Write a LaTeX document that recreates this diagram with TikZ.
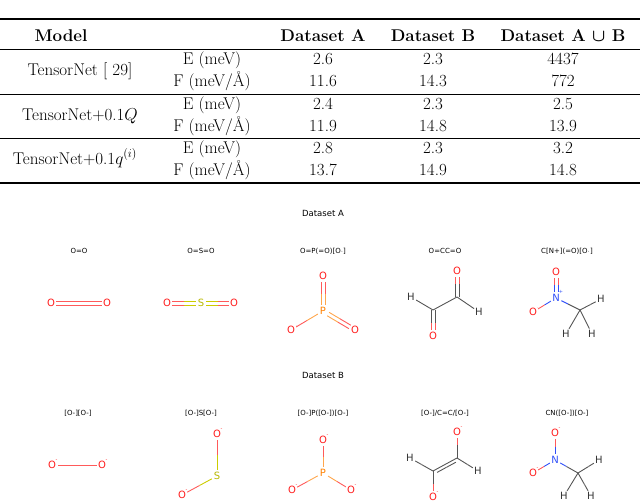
\documentclass[tikz,border=0pt]{standalone}
\usepackage{amsmath}
\usepackage{fontspec}
\newfontfamily\molfont{DejaVu Sans}
\usetikzlibrary{calc}
\definecolor{oc}{HTML}{FF1A1A}
\definecolor{ob}{HTML}{FF5A5A}
\definecolor{sc}{HTML}{CCCC00}
\definecolor{pc}{HTML}{FF8000}
\definecolor{nc}{HTML}{3050F8}
\definecolor{hc}{HTML}{333333}
\definecolor{cb}{HTML}{555555}
\newcommand\bd[7][0,0]{%
 \draw[#4] ($($(#2)!#6!(#3)$)+(#1)$) -- ($($(#2)!.5!(#3)$)+(#1)$);
 \draw[#5] ($($(#2)!.5!(#3)$)+(#1)$) -- ($($(#3)!#7!(#2)$)+(#1)$);}
\begin{document}
\begin{tikzpicture}[x=1pt,y=-1pt,
  cell/.style={font=\fontsize{17}{19}\selectfont,inner sep=0pt,anchor=base},
  hcell/.style={cell,font=\fontsize{17}{19}\selectfont\bfseries},
  title/.style={font=\molfont\fontsize{8.5}{10}\selectfont,inner sep=0pt},
  smi/.style={font=\molfont\fontsize{7}{8}\selectfont,inner sep=0pt},
  atom/.style={font=\molfont\fontsize{10}{11}\selectfont,inner sep=0pt},
  aO/.style={atom,text=oc}, aS/.style={atom,text=sc!90!black}, aP/.style={atom,text=pc},
  aN/.style={atom,text=nc}, aH/.style={atom,text=hc},
  bnd/.style={line width=0.9pt},
  chg/.style={font=\molfont\fontsize{5}{5}\selectfont,inner sep=0pt}]
\useasboundingbox (0,0) rectangle (640,503);
% ---------- table ----------
\draw[line width=1.2pt] (0,19) -- (640,19);
\draw[line width=0.6pt] (0,49) -- (640,49);
\draw[line width=0.6pt] (0,94) -- (640,94);
\draw[line width=0.6pt] (0,138) -- (640,138);
\draw[line width=1.2pt] (0,183) -- (640,183);
\node[hcell] (hm) at (61,42) {Model};
\node[hcell] (ha) at (323,42) {Dataset A};
\node[hcell] (hb) at (433,42) {Dataset B};
\node[hcell] (hab) at (563,42) {Dataset A $\boldsymbol{\cup}$ B};
\node[cell] (m1) at (80,76) {TensorNet [ 29]};
\node[cell] (m2) at (80,120) {TensorNet+0.1$Q$};
\node[cell] (m3) at (75,164) {TensorNet+0.1$q^{(i)}$};
\foreach \y/\a/\b/\c/\d/\e/\f [count=\i] in {65/2.6/2.3/4437/11.6/14.3/772,109/2.4/2.3/2.5/11.9/14.8/13.9,153/2.8/2.3/3.2/13.7/14.9/14.8}{
 \node[cell] (e\i) at (212,\y) {E (meV)};
 \node[cell] (f\i) at (212,\y+22) {F (meV/\AA)};
 \node[cell] (ea\i) at (323,\y) {\a};
 \node[cell] (eb\i) at (433,\y) {\b};
 \node[cell] (ec\i) at (563,\y) {\c};
 \node[cell] (fa\i) at (323,\y+22) {\d};
 \node[cell] (fb\i) at (433,\y+22) {\e};
 \node[cell] (fc\i) at (563,\y+22) {\f};
}
% ---------- Dataset A ----------
\node[title] (ta) at (323,213) {Dataset A};
\node[smi] (sa1) at (79,251) {O=O};
\node[smi] (sa2) at (201,251) {O=S=O};
\node[smi] (sa3) at (323,251) {O=P(=O)[O$\cdot$]};
\node[smi] (sa4) at (445,251) {O=CC=O};
\node[smi] (sa5) at (567,251) {C[N+](=O)[O$\cdot$]};
% O=O
\node[aO] (a1o1) at (51,303) {O}; \node[aO] (a1o2) at (107,303) {O};
\bd[0,-2]{a1o1}{a1o2}{bnd,ob}{bnd,ob}{5pt}{5pt}
\bd[0,2]{a1o1}{a1o2}{bnd,ob}{bnd,ob}{5pt}{5pt}
% SO2
\node[aO] (a2o1) at (167,303) {O}; \node[aS] (a2s) at (201,303) {S}; \node[aO] (a2o2) at (234,303) {O};
\foreach \d in {-2,2}{\bd[0,\d]{a2o1}{a2s}{bnd,ob}{bnd,sc}{5pt}{5pt}
 \bd[0,\d]{a2s}{a2o2}{bnd,sc}{bnd,ob}{5pt}{5pt}}
% PO3
\node[aO] (a3o1) at (323,276) {O}; \node[aP] (a3p) at (323,311) {P};
\node[aO] (a3o2) at (291,330) {O}; \node[aO] (a3o3) at (355,330) {O};
\node[chg,text=oc] at (297,326) {$\cdot$};
\foreach \d in {-2,2}{\bd[\d,0]{a3o1}{a3p}{bnd,ob}{bnd,pc!70}{6pt}{6pt}}
\bd{a3p}{a3o2}{bnd,pc!70}{bnd,ob}{6pt}{6pt}
\bd[1,-1.7]{a3p}{a3o3}{bnd,pc!70}{bnd,ob}{6pt}{6pt}
\bd[-1,1.7]{a3p}{a3o3}{bnd,pc!70}{bnd,ob}{6pt}{6pt}
% glyoxal
\node[aO] (a4o1) at (457,271) {O}; \coordinate (a4c1) at (457,297);
\node[aH] (a4h1) at (479,312) {H}; \coordinate (a4c2) at (433,310);
\node[aH] (a4h2) at (411,297) {H}; \node[aO] (a4o2) at (433,336) {O};
\foreach \d in {-2,2}{\bd[\d,0]{a4o1}{a4c1}{bnd,ob}{bnd,cb}{6pt}{0pt}
 \bd[\d,0]{a4c2}{a4o2}{bnd,cb}{bnd,ob}{0pt}{6pt}}
\bd{a4c1}{a4c2}{bnd,cb}{bnd,cb}{0pt}{0pt}
\bd{a4c1}{a4h1}{bnd,cb}{bnd,cb}{0pt}{6pt}
\bd{a4c2}{a4h2}{bnd,cb}{bnd,cb}{0pt}{6pt}
% nitromethane
\node[aO] (a5o1) at (556,272) {O}; \node[aN] (a5n) at (556,298) {N};
\node[chg,text=nc] at (561,292) {+};
\node[aO] (a5o2) at (533,312) {O}; \node[chg,text=oc] at (538,308) {$\cdot$};
\coordinate (a5c) at (580,310);
\node[aH] (a5h1) at (601,299) {H}; \node[aH] (a5h2) at (566,334) {H}; \node[aH] (a5h3) at (592,334) {H};
\foreach \d in {-2,2}{\bd[\d,0]{a5o1}{a5n}{bnd,ob}{bnd,nc}{6pt}{6pt}}
\bd{a5n}{a5o2}{bnd,nc}{bnd,ob}{6pt}{6pt}
\bd{a5n}{a5c}{bnd,nc}{bnd,cb}{6pt}{0pt}
\bd{a5c}{a5h1}{bnd,cb}{bnd,cb}{0pt}{6pt}
\bd{a5c}{a5h2}{bnd,cb}{bnd,cb}{0pt}{6pt}
\bd{a5c}{a5h3}{bnd,cb}{bnd,cb}{0pt}{6pt}
% ---------- Dataset B ----------
\node[title] (tb) at (323,375) {Dataset B};
\node[smi] (sb1) at (78,413) {[O-][O-]};
\node[smi] (sb2) at (201,413) {[O-]S[O-]};
\node[smi] (sb3) at (323,413) {[O-]P([O-])[O-]};
\node[smi] (sb4) at (445,413) {[O-]/C=C/[O-]};
\node[smi] (sb5) at (567,413) {CN([O-])[O-]};
\newcommand\ch[1]{\node[chg,text=oc,anchor=west] at ($(#1)+(3.5,-4)$) {-};}
% O-O
\node[aO] (b1o1) at (52,465) {O}; \node[aO] (b1o2) at (102,465) {O};
\ch{b1o1}\ch{b1o2}
\bd{b1o1}{b1o2}{bnd,ob}{bnd,ob}{6pt}{5pt}
% SO2 2-
\node[aO] (b2o1) at (217,434) {O}; \node[aS] (b2s) at (217,476) {S}; \node[aO] (b2o2) at (182,495) {O};
\ch{b2o1}\ch{b2o2}
\bd{b2o1}{b2s}{bnd,ob}{bnd,sc}{6pt}{6pt}
\bd{b2s}{b2o2}{bnd,sc}{bnd,ob}{6pt}{6pt}
% PO3 3-
\node[aO] (b3o1) at (323,440) {O}; \node[aP] (b3p) at (323,473) {P};
\node[aO] (b3o2) at (292,490) {O}; \node[aO] (b3o3) at (351,490) {O};
\ch{b3o1}\ch{b3o2}\ch{b3o3}
\bd{b3o1}{b3p}{bnd,ob}{bnd,pc!70}{6pt}{6pt}
\bd{b3p}{b3o2}{bnd,pc!70}{bnd,ob}{6pt}{6pt}
\bd{b3p}{b3o3}{bnd,pc!70}{bnd,ob}{6pt}{6pt}
% enediolate
\node[aO] (b4o1) at (457,432) {O}; \coordinate (b4c1) at (457,458);
\node[aH] (b4h1) at (478,471) {H}; \coordinate (b4c2) at (433,471);
\node[aH] (b4h2) at (410,458) {H}; \node[aO] (b4o2) at (433,497) {O};
\ch{b4o1}\ch{b4o2}
\bd{b4o1}{b4c1}{bnd,ob}{bnd,cb}{6pt}{0pt}
\bd{b4c2}{b4o2}{bnd,cb}{bnd,ob}{0pt}{6pt}
\bd{b4c1}{b4c2}{bnd,cb}{bnd,cb}{0pt}{0pt}
\bd[1.5,2.8]{b4c1}{b4c2}{bnd,cb}{bnd,cb}{3pt}{3pt}
\bd{b4c1}{b4h1}{bnd,cb}{bnd,cb}{0pt}{6pt}
\bd{b4c2}{b4h2}{bnd,cb}{bnd,cb}{0pt}{6pt}
% CN(O-)O-
\node[aO] (b5o1) at (555,433) {O}; \node[aN] (b5n) at (555,460) {N};
\node[aO] (b5o2) at (533,473) {O};
\ch{b5o1}\ch{b5o2}
\coordinate (b5c) at (578,473);
\node[aH] (b5h1) at (599,460) {H}; \node[aH] (b5h2) at (564,496) {H}; \node[aH] (b5h3) at (591,496) {H};
\bd{b5o1}{b5n}{bnd,ob}{bnd,nc}{6pt}{6pt}
\bd{b5n}{b5o2}{bnd,nc}{bnd,ob}{6pt}{6pt}
\bd{b5n}{b5c}{bnd,nc}{bnd,cb}{6pt}{0pt}
\bd{b5c}{b5h1}{bnd,cb}{bnd,cb}{0pt}{6pt}
\bd{b5c}{b5h2}{bnd,cb}{bnd,cb}{0pt}{6pt}
\bd{b5c}{b5h3}{bnd,cb}{bnd,cb}{0pt}{6pt}
\end{tikzpicture}
\end{document}
